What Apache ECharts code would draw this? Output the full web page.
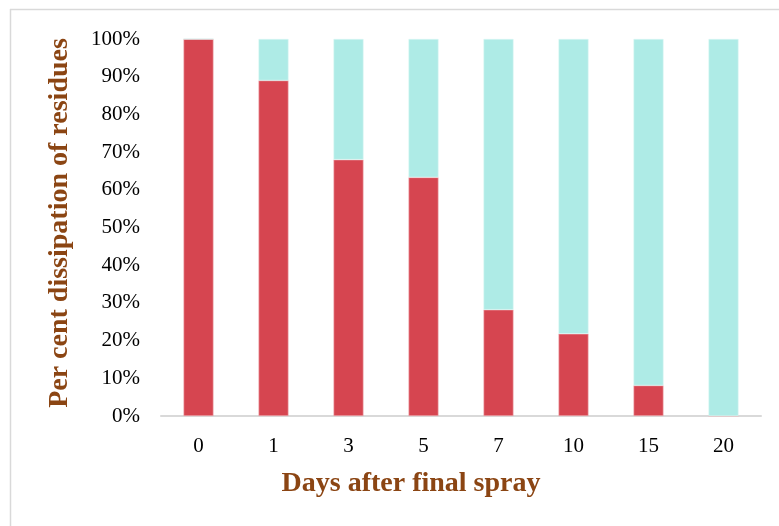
<!DOCTYPE html>
<html>
<head>
<meta charset="utf-8">
<script src="https://cdn.jsdelivr.net/npm/echarts@6/dist/echarts.min.js"></script>
<style>
  html, body { margin: 0; padding: 0; background: #fff; }
  #chart { width: 779px; height: 526px; }
</style>
</head>
<body>
<div id="chart"></div>
<script>
// Days after the final spray
const days = ['0', '1', '3', '5', '7', '10', '15', '20'];
// Share of residue still present (%)
const remaining = [100, 89, 68, 63.3, 28.2, 21.8, 8.1, 0];
// Share of residue dissipated (%)
const dissipated = remaining.map(v => +(100 - v).toFixed(1));
const yTicks = [0, 10, 20, 30, 40, 50, 60, 70, 80, 90, 100];

const xTitle = 'Days after final spray';
const yTitle = 'Per cent dissipation of residues';

const chart = echarts.init(document.getElementById('chart'), null, { renderer: 'canvas' });

const serif = '"Liberation Serif", "Times New Roman", serif';
const brown = '#8B4513';

chart.setOption({
  animation: false,
  backgroundColor: '#fff',
  graphic: [
    { type: 'line', shape: { x1: 10, y1: 9.5, x2: 779, y2: 9.5 }, style: { stroke: '#d9d9d9', lineWidth: 1.5 } },
    { type: 'line', shape: { x1: 10.5, y1: 9, x2: 10.5, y2: 526 }, style: { stroke: '#d9d9d9', lineWidth: 1.5 } },
    {
      type: 'text', x: 411, y: 484,
      style: { text: xTitle, fill: brown, font: 'bold 28px ' + serif, align: 'center', verticalAlign: 'middle' }
    },
    {
      type: 'text', x: 60, y: 223, rotation: Math.PI / 2,
      style: { text: yTitle, fill: brown, font: 'bold 28px ' + serif, align: 'center', verticalAlign: 'middle' }
    }
  ],
  grid: { left: 161, right: 18, top: 39, bottom: 110, containLabel: false },
  xAxis: {
    type: 'category',
    data: days,
    axisLine: { lineStyle: { color: '#d9d9d9', width: 2 } },
    axisTick: { show: false },
    axisLabel: { color: '#000', fontFamily: serif, fontSize: 21, margin: 20 }
  },
  yAxis: {
    type: 'value',
    min: 0,
    max: 100,
    interval: 10,
    splitLine: { show: false },
    axisLine: { show: false },
    axisTick: { show: false },
    axisLabel: {
      color: '#000', fontFamily: serif, fontSize: 21, margin: 21,
      formatter: v => yTicks.includes(v) ? v + '%' : ''
    }
  },
  series: [
    {
      name: 'Remaining',
      type: 'bar',
      stack: 'total',
      data: remaining,
      barWidth: 30,
      itemStyle: { color: '#d64550', borderColor: '#f2b5ba', borderWidth: 0.6 }
    },
    {
      name: 'Dissipated',
      type: 'bar',
      stack: 'total',
      data: dissipated,
      barWidth: 30,
      itemStyle: { color: '#aeebe6', borderColor: '#d8f6f3', borderWidth: 0.6 }
    }
  ]
});
</script>
</body>
</html>
